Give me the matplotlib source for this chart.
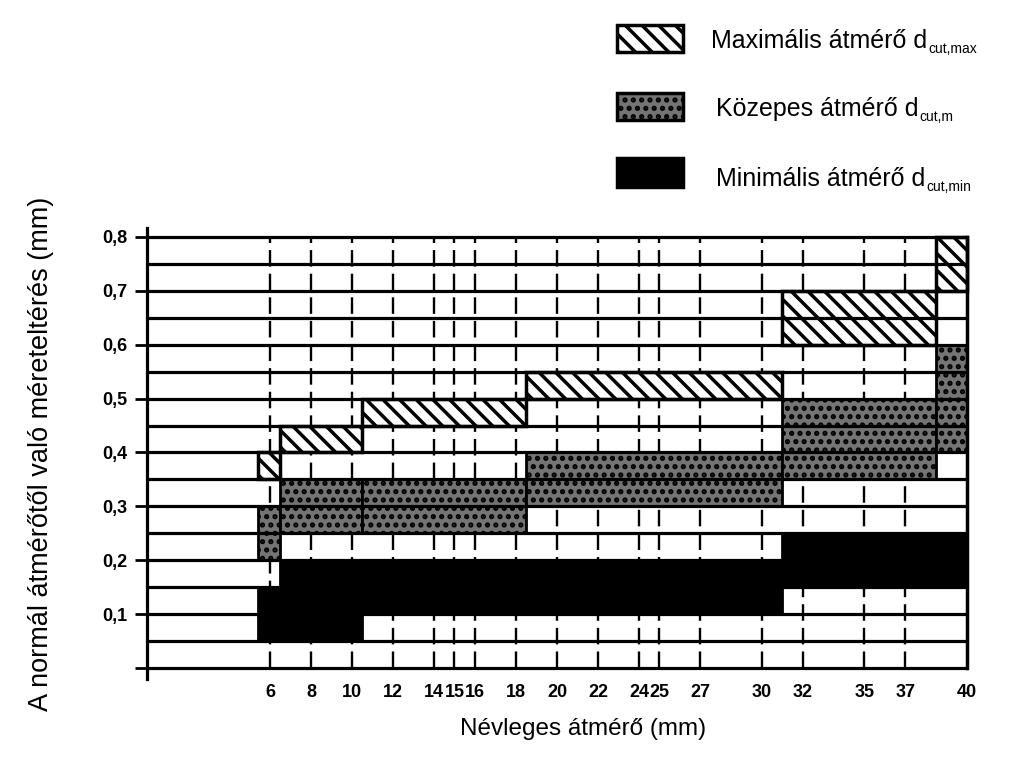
import matplotlib
matplotlib.use("Agg")
import matplotlib.pyplot as plt
from matplotlib.patches import Rectangle
import numpy as np

plt.rcParams['font.family'] = ['Liberation Sans', 'DejaVu Sans']
plt.rcParams['hatch.linewidth'] = 2.5

# ---- data ----
x_edges = [5.4, 6.5, 10.5, 18.5, 31.0, 38.5, 40.0]
max_low = [0.35, 0.40, 0.45, 0.50, 0.60, 0.70]
max_high = [0.40, 0.45, 0.50, 0.55, 0.70, 0.80]
mid_low = [0.20, 0.25, 0.25, 0.30, 0.35, 0.40]
mid_high = [0.30, 0.35, 0.35, 0.40, 0.50, 0.60]
min_low = [0.05, 0.05, 0.10, 0.10, 0.15, 0.15]
min_high = [0.15, 0.20, 0.20, 0.20, 0.25, 0.25]
x_ticks = [6, 8, 10, 12, 14, 15, 16, 18, 20, 22, 24, 25, 27, 30, 32, 35, 37, 40]
y_ticks = [0.0, 0.1, 0.2, 0.3, 0.4, 0.5, 0.6, 0.7, 0.8]
y_labels = ['', '0,1', '0,2', '0,3', '0,4', '0,5', '0,6', '0,7', '0,8']
grid_step = 0.05
legend_main = ['Maximális átmérő d', 'Közepes átmérő d', 'Minimális átmérő d']
legend_sub = ['cut,max', 'cut,m', 'cut,min']

W, H = 1024, 778
fig = plt.figure(figsize=(W / 100, H / 100), dpi=100)
ax = fig.add_axes([0.1436, 0.1275, 0.8086, 0.5790])
ax.set_xlim(0, 40.4)
ax.set_ylim(-0.02, 0.816)

lefts = np.array(x_edges[:-1])
widths = np.diff(x_edges)

# vertical dashed lines
for xt in x_ticks[:-1]:
    ax.plot([xt, xt], [0, 0.8], color='black', lw=1.7, ls=(0, (7, 3)), zorder=1)

# bands
ax.bar(lefts, np.array(min_high) - np.array(min_low), widths, bottom=min_low,
       align='edge', facecolor='black', edgecolor='black', linewidth=2, zorder=2)
ax.bar(lefts, np.array(mid_high) - np.array(mid_low), widths, bottom=mid_low,
       align='edge', facecolor='#747474', edgecolor='black', hatch='..',
       linewidth=2, zorder=2)
ax.bar(lefts, np.array(max_high) - np.array(max_low), widths, bottom=max_low,
       align='edge', facecolor='white', edgecolor='black', hatch='\\\\',
       linewidth=2.5, zorder=2)

# horizontal grid lines
for yv in np.arange(0, 0.8 + 1e-9, grid_step):
    ax.plot([0, 40], [yv, yv], color='black', lw=2.3, zorder=3, solid_capstyle='butt')
# right border
ax.plot([40, 40], [0, 0.8], color='black', lw=2.5, zorder=3)

for s in ['top', 'right', 'bottom']:
    ax.spines[s].set_visible(False)
ax.spines['left'].set_linewidth(2.3)
ax.spines['left'].set_position(('data', 0))

ax.set_yticks(y_ticks)
ax.set_yticklabels(y_labels, fontsize=13, fontweight='bold')
ax.tick_params(axis='y', length=9, width=2, pad=5, direction='out')
ax.set_xticks(x_ticks)
ax.set_xticklabels([str(v) for v in x_ticks], fontsize=13, fontweight='bold')
ax.tick_params(axis='x', length=0, pad=4)

ax.set_xlabel('Névleges átmérő (mm)', fontsize=17.5)
ax.xaxis.set_label_coords(0.527, -0.088)
ax.set_ylabel('A normál átmérőtől való méreteltérés (mm)', fontsize=19.5)
ax.yaxis.set_label_coords(-0.112, 0.5)

# legend (manual)
box_x, box_w = 0.6025, 0.0645
box_specs = [
    (0.9332, 0.0347, dict(facecolor='white', edgecolor='black', hatch='\\\\', linewidth=2.5)),
    (0.8458, 0.0347, dict(facecolor='#747474', edgecolor='black', hatch='..', linewidth=2.5)),
    (0.7596, 0.0373, dict(facecolor='black', edgecolor='black', linewidth=2.5)),
]
for (y0, h, style) in box_specs:
    fig.patches.append(Rectangle((box_x, y0), box_w, h, transform=fig.transFigure, **style))

text_x_px = [711, 716, 716]
baseline_px = [48, 116, 186]
mains = []
for tx, by, lab in zip(text_x_px, baseline_px, legend_main):
    mains.append(fig.text(tx / W, 1 - by / H, lab, fontsize=18, va='baseline', ha='left'))
fig.canvas.draw()
renderer = fig.canvas.get_renderer()
for t, by, sub in zip(mains, baseline_px, legend_sub):
    bb = t.get_window_extent(renderer)
    fig.text((bb.x1 + 1) / W, 1 - (by + 5) / H, sub, fontsize=10, va='baseline', ha='left')

fig.savefig('out.png', dpi=100)
